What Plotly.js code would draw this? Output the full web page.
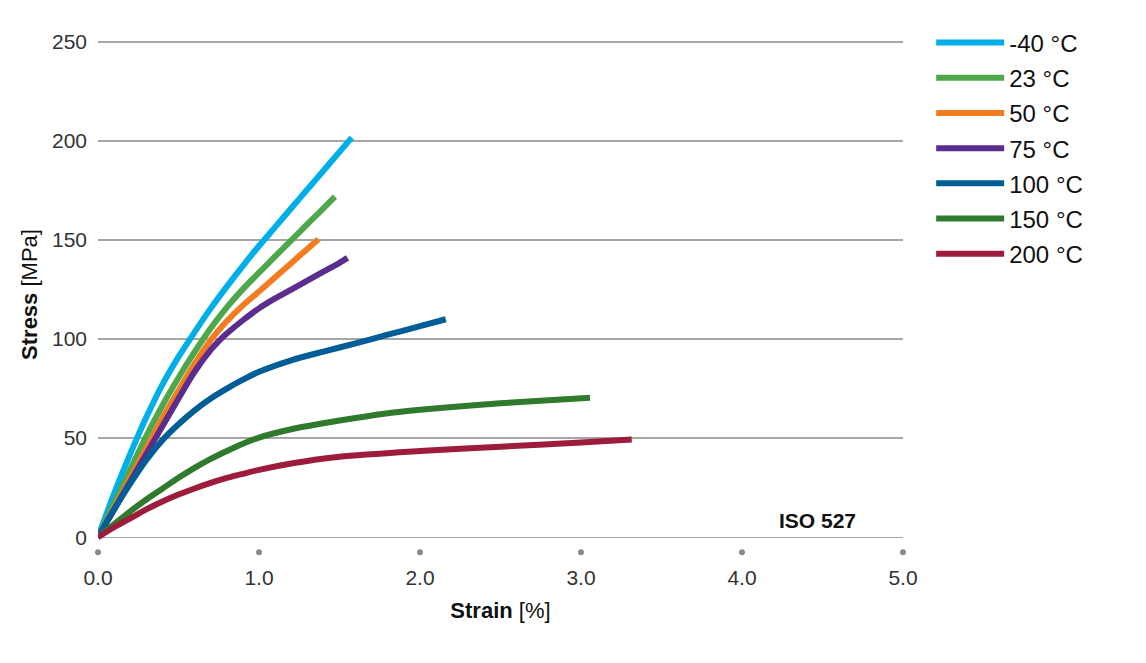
<!DOCTYPE html>
<html>
<head>
<meta charset="utf-8">
<script src="https://cdn.plot.ly/plotly-3.0.1.min.js"></script>
<style>html,body{margin:0;padding:0;background:#fff;}#chart{width:1146px;height:663px;}</style>
</head>
<body>
<div id="chart"></div>
<script>
// Strain [%] and Stress [MPa]
const seriesNames = ["-40 °C", "23 °C", "50 °C", "75 °C", "100 °C", "150 °C", "200 °C"];
const seriesColors = ["#00aee8", "#4ea84b", "#f47c20", "#5b2d8e", "#005d97", "#2f7a2c", "#9d1c3b"];

const strainM40 = [0, 0.1, 0.2, 0.3, 0.4, 0.5, 0.6, 0.7, 0.8, 0.9, 1.0, 1.1, 1.2, 1.3, 1.4, 1.5, 1.576];
const stressM40 = [0, 22, 42, 60.5, 77, 91, 103.5, 115.5, 126.5, 137, 147, 156.5, 166, 175.5, 185, 194.5, 201.7];

const strain23 = [0, 0.1, 0.2, 0.3, 0.4, 0.5, 0.6, 0.7, 0.8, 0.9, 1.0, 1.1, 1.2, 1.3, 1.4, 1.472];
const stress23 = [0, 17, 34, 51, 66.5, 80.5, 93.5, 105.5, 116, 125.2, 133.5, 141.7, 149.8, 158, 166, 171.9];

const strain50 = [0, 0.1, 0.2, 0.3, 0.4, 0.5, 0.6, 0.7, 0.8, 0.9, 1.0, 1.1, 1.2, 1.3, 1.369];
const stress50 = [0, 15, 30, 45, 60, 74, 87.5, 99.5, 109, 117, 124, 131.2, 138.3, 145.5, 150.4];

const strain75 = [0, 0.1, 0.2, 0.3, 0.4, 0.5, 0.6, 0.7, 0.75, 0.8, 0.9, 1.0, 1.1, 1.2, 1.3, 1.4, 1.5, 1.55];
const stress75 = [0, 14, 28, 42, 56, 70, 83.5, 94.5, 99, 102.8, 109.5, 115.5, 120.5, 125, 129.5, 134, 138.5, 141];

const strain100 = [0, 0.1, 0.2, 0.3, 0.4, 0.5, 0.6, 0.7, 0.8, 0.9, 1.0, 1.2, 1.4, 1.6, 1.8, 2.0, 2.16];
const stress100 = [0, 14, 27, 39, 49, 57, 64, 70, 75, 79.5, 83.5, 89.3, 93.7, 97.8, 102.2, 106.5, 110];

const strain150 = [0, 0.1, 0.2, 0.3, 0.4, 0.5, 0.6, 0.7, 0.8, 0.9, 1.0, 1.2, 1.4, 1.6, 1.8, 2.0, 2.2, 2.5, 2.8, 3.056];
const stress150 = [0, 6.5, 13, 19, 24.5, 30, 35, 39.5, 43.5, 47.2, 50.3, 54.5, 57.5, 60.2, 62.6, 64.3, 65.7, 67.6, 69.1, 70.4];

const strain200 = [0, 0.1, 0.2, 0.3, 0.4, 0.5, 0.6, 0.7, 0.8, 0.9, 1.0, 1.2, 1.5, 2.0, 2.5, 3.0, 3.315];
const stress200 = [0, 5, 9.5, 14, 18, 21.5, 24.6, 27.4, 29.9, 32, 34, 37.2, 40.6, 43.5, 45.7, 47.8, 49.3];

const xTickVals = [0, 1, 2, 3, 4, 5];
const xTickText = ["0.0", "1.0", "2.0", "3.0", "4.0", "5.0"];
const yTickVals = [0, 50, 100, 150, 200, 250];
const yTickText = ["0", "50", "100", "150", "200", "250"];

const strains = [strainM40, strain23, strain50, strain75, strain100, strain150, strain200];
const stresses = [stressM40, stress23, stress50, stress75, stress100, stress150, stress200];

const FONT = "Liberation Sans, Arial, sans-serif";

const traces = seriesNames.map((name, i) => ({
  type: "scatter",
  mode: "lines",
  name: name,
  legendgroup: "g" + i,
  x: strains[i],
  y: stresses[i],
  line: {color: seriesColors[i], width: 6, shape: "spline", smoothing: 0.8},
  cliponaxis: false,
  hoverinfo: "x+y+name"
}));

// tick dots below the x axis, one per x tick
traces.push({
  type: "scatter",
  mode: "markers",
  x: xTickVals,
  y: xTickVals.map(() => -7.6),
  marker: {color: "#8a8a8a", size: 6},
  showlegend: false,
  hoverinfo: "skip",
  cliponaxis: false
});

const layout = {
  width: 1146,
  height: 663,
  paper_bgcolor: "#ffffff",
  plot_bgcolor: "#ffffff",
  margin: {l: 98, r: 243, t: 32, b: 106},
  font: {family: FONT, color: "#222"},
  showlegend: true,
  legend: {
    x: 1.035, xanchor: "left",
    y: 1.022, yanchor: "top",
    font: {family: FONT, size: 24, color: "#111"},
    itemwidth: 68,
    traceorder: "grouped",
    tracegroupgap: 1,
    bgcolor: "rgba(0,0,0,0)"
  },
  xaxis: {
    range: [0, 5],
    tickvals: xTickVals,
    ticktext: xTickText,
    showgrid: false,
    zeroline: false,
    showline: false,
    ticks: "",
    ticklabelstandoff: 6,
    tickfont: {family: FONT, size: 21, color: "#333"},
    title: {text: "<b>Strain</b> [%]", font: {family: FONT, size: 22, color: "#111"}, standoff: 14},
    fixedrange: true
  },
  yaxis: {
    range: [-10, 255],
    tickvals: yTickVals,
    ticktext: yTickText,
    showgrid: true,
    gridcolor: "#a6a6a6",
    gridwidth: 1.3,
    zeroline: false,
    showline: false,
    ticks: "",
    ticklabelstandoff: 10,
    tickfont: {family: FONT, size: 21, color: "#333"},
    title: {text: "<b>Stress</b> [MPa]", font: {family: FONT, size: 22, color: "#111"}, standoff: 8},
    fixedrange: true
  },
  annotations: [{
    x: 4.47, y: 8.6, xref: "x", yref: "y",
    text: "<b>ISO 527</b>",
    showarrow: false,
    font: {family: FONT, size: 21, color: "#111"}
  }]
};

Plotly.newPlot("chart", traces, layout, {displayModeBar: false, staticPlot: true});
</script>
</body>
</html>
